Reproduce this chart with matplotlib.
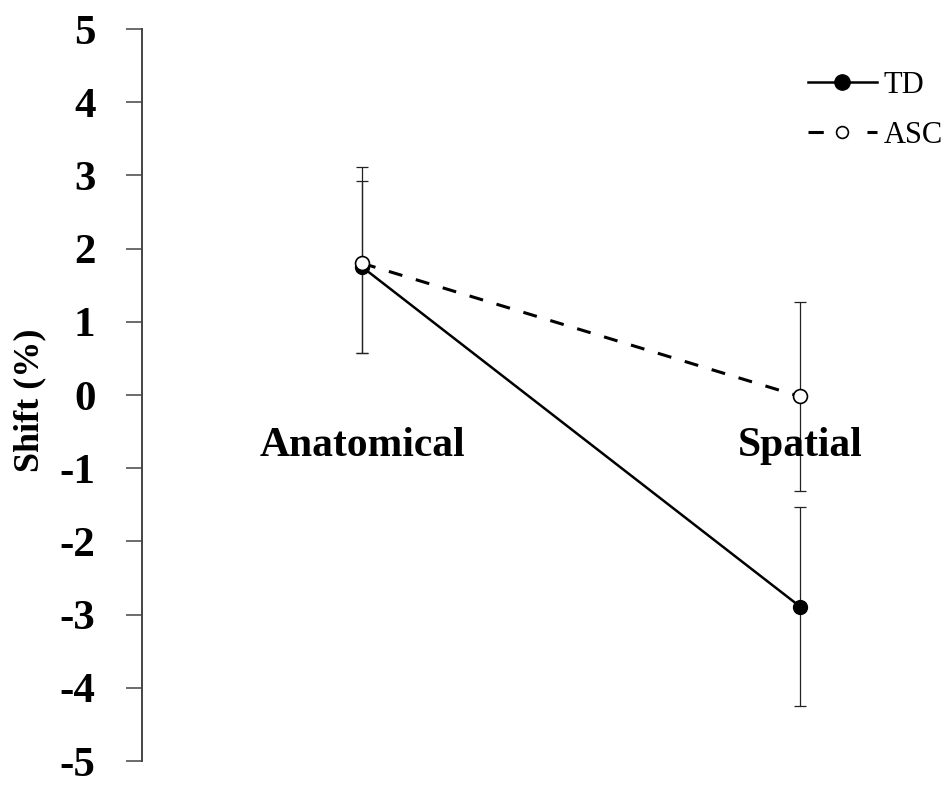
import numpy as np
import matplotlib.pyplot as plt

# data
conditions = ['Anatomical', 'Spatial']
td_mean = [1.75, -2.89]
td_err = [1.17, 1.36]
asc_mean = [1.80, -0.02]
asc_err_low = [1.23, 1.29]
asc_err_high = [1.32, 1.29]
y_ticks = [5, 4, 3, 2, 1, 0, -1, -2, -3, -4, -5]

plt.rcParams['font.family'] = ['Liberation Serif', 'DejaVu Serif']

fig = plt.figure(figsize=(9.48, 7.87), dpi=100)
ax = fig.add_axes([142 / 948, 26 / 787, 798 / 948, 732 / 787])

x = np.arange(len(conditions))

ax.errorbar(x, td_mean, yerr=td_err, fmt='none', ecolor='#222222',
            elinewidth=0.9, capsize=4.3, capthick=0.9, zorder=2)
ax.errorbar(x, asc_mean, yerr=[asc_err_low, asc_err_high], fmt='none',
            ecolor='#222222', elinewidth=0.9, capsize=4.3, capthick=0.9, zorder=2)

ax.plot(x, td_mean, color='black', linestyle='-', linewidth=1.8,
        marker='o', markersize=10, markerfacecolor='black',
        markeredgecolor='black', label='TD', zorder=3)
ax.plot(x, asc_mean, color='black', linestyle=(0, (4.6, 4.6)), linewidth=2.2,
        marker='o', markersize=10, markerfacecolor='white',
        markeredgecolor='black', markeredgewidth=1.2, label='ASC', zorder=4)

ax.set_ylim(-5, 5)
px_per_unit = 438
ax.set_xlim(-(362 - 142) / px_per_unit, (940 - 362) / px_per_unit)

ax.set_yticks(y_ticks)
ax.set_yticklabels([str(t) for t in y_ticks], fontsize=31, fontweight='bold')
ax.tick_params(axis='y', direction='out', length=11.5, width=1.1,
               color='#444444', pad=22)
ax.set_xticks([])

for side in ['top', 'right', 'bottom']:
    ax.spines[side].set_visible(False)
ax.spines['left'].set_linewidth(1.4)
ax.spines['left'].set_color('#444444')

# category labels sit below the zero line
for xi, name in zip(x, conditions):
    ax.text(xi, -0.69, name, ha='center', va='center',
            fontsize=30, fontweight='bold')

fig.text(30 / 948, 1 - 400 / 787, 'Shift (%)', rotation=90, ha='center',
         va='center', fontsize=26, fontweight='bold')

leg = ax.legend(loc='upper left', bbox_to_anchor=((808 - 142) / 798, 1 - 42 / 732),
                frameon=False, fontsize=22, handlelength=2.25, handletextpad=0.22,
                labelspacing=0.68, borderaxespad=0, borderpad=0)
td_h, asc_h = leg.legend_handles
td_h.set_markersize(11)
asc_h.set_markersize(8.5)
asc_h.set_linestyle((0, (5, 14.3)))

fig.savefig('out.png', dpi=100)
